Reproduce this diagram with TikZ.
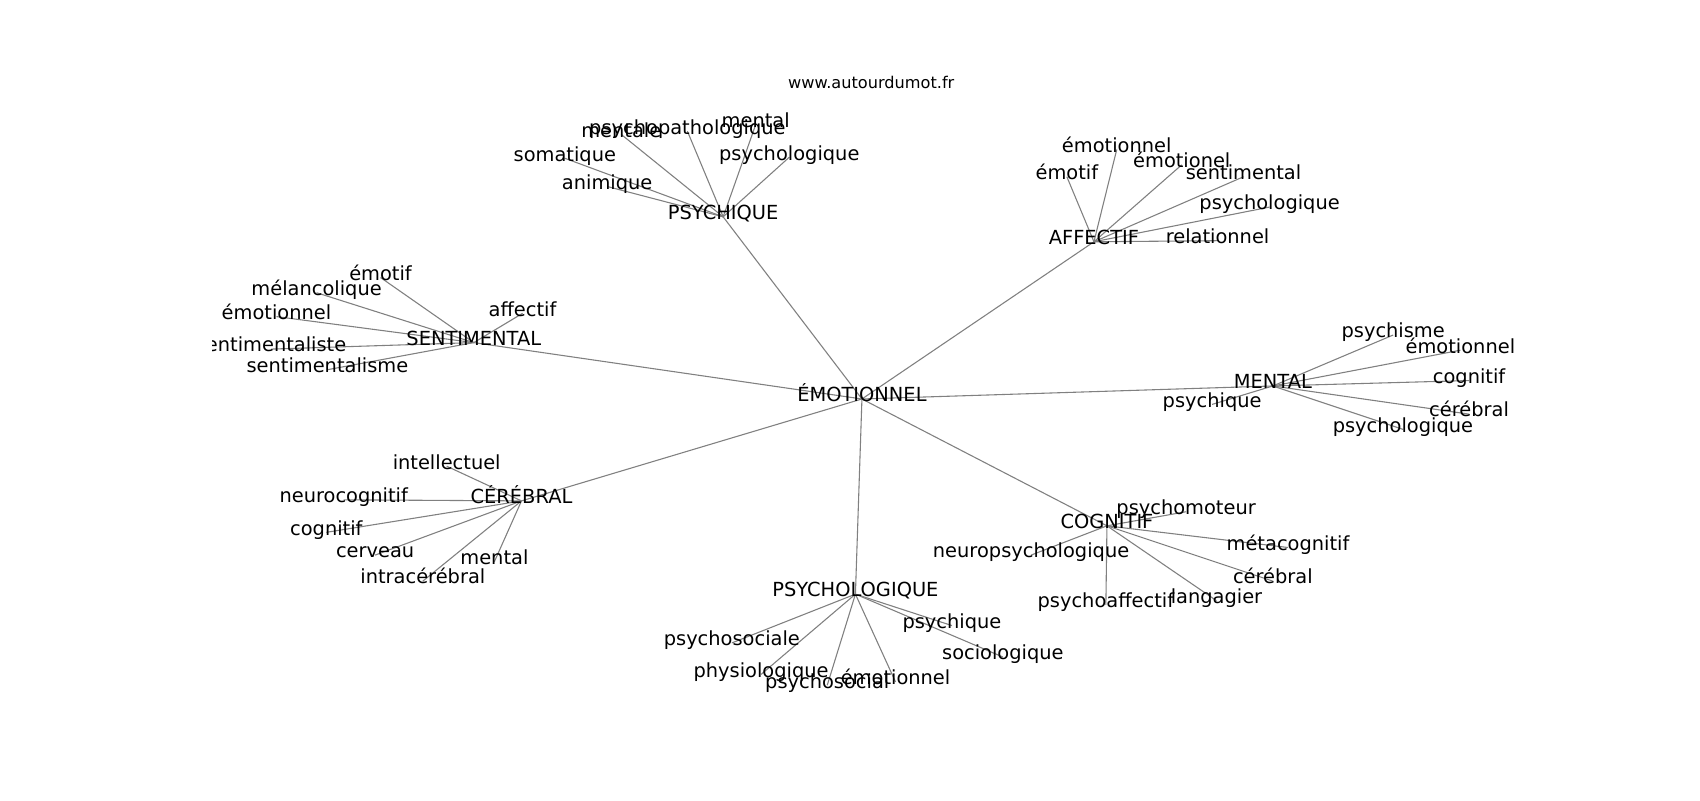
\documentclass[tikz,border=0pt]{standalone}
\usepackage{fontspec}
\setmainfont{DejaVu Sans}
\usetikzlibrary{backgrounds}

\begin{document}
\begin{tikzpicture}[x=1pt,y=-1pt,semithick]
\tikzstyle{word}=[inner sep=0pt, text height=0.76em, text depth=0.24em,
font=\fontsize{17.9}{20}\selectfont, text=black]
\tikzstyle{link}=[draw=gray, line width=1pt]

\useasboundingbox (0,0) rectangle (1568,738);

\node[font=\fontsize{14.9}{17}\selectfont] (Title) at (803.6,76) {www.autourdumot.fr};

\begin{scope}
\clip (196,88.6) rectangle (1411.2,656.8);
\begin{scope}[yshift=-2pt]

\node[word] (Emo) at (795,366) {ÉMOTIONNEL};

% hubs
\node[word] (Psychique) at (667,198) {PSYCHIQUE};
\node[word] (Affectif) at (1009,221) {AFFECTIF};
\node[word] (Sentimental) at (437,314) {SENTIMENTAL};
\node[word] (Mental) at (1174,354) {MENTAL};
\node[word] (Cerebral) at (481,460) {CÉRÉBRAL};
\node[word] (Cognitif) at (1021,483) {COGNITIF};
\node[word] (Psychologique) at (789,546) {PSYCHOLOGIQUE};

% PSYCHIQUE
\node[word] (PsqMentale) at (573,122) {mentale};
\node[word] (PsqPatho) at (634,119) {psychopathologique};
\node[word] (PsqMental) at (697,113) {mental};
\node[word] (PsqPsycho) at (728,143) {psychologique};
\node[word] (PsqSomatique) at (521,144) {somatique};
\node[word] (PsqAnimique) at (560,170) {animique};

% AFFECTIF
\node[word] (AffEmotionnel) at (1030,136) {émotionnel};
\node[word] (AffEmotif) at (984,161) {émotif};
\node[word] (AffEmotionel) at (1090,150) {émotionel};
\node[word] (AffSentimental) at (1147,161) {sentimental};
\node[word] (AffPsycho) at (1171,189) {psychologique};
\node[word] (AffRelationnel) at (1123,220) {relationnel};

% SENTIMENTAL
\node[word] (SenEmotif) at (351,254) {émotif};
\node[word] (SenMelancolique) at (292,268) {mélancolique};
\node[word] (SenEmotionnel) at (255,290) {émotionnel};
\node[word] (SenSentimentaliste) at (250,320) {sentimentaliste};
\node[word] (SenSentimentalisme) at (302,339) {sentimentalisme};
\node[word] (SenAffectif) at (482,287) {affectif};

% MENTAL
\node[word] (MenPsychisme) at (1285,307) {psychisme};
\node[word] (MenEmotionnel) at (1347,321) {émotionnel};
\node[word] (MenCognitif) at (1355,349) {cognitif};
\node[word] (MenCerebral) at (1355,380) {cérébral};
\node[word] (MenPsycho) at (1294,394) {psychologique};
\node[word] (MenPsychique) at (1118,371) {psychique};

% CEREBRAL
\node[word] (CerIntellectuel) at (412,428) {intellectuel};
\node[word] (CerNeuro) at (317,459) {neurocognitif};
\node[word] (CerCognitif) at (301,489) {cognitif};
\node[word] (CerCerveau) at (346,510) {cerveau};
\node[word] (CerIntra) at (390,534) {intracérébral};
\node[word] (CerMental) at (456,516) {mental};

% COGNITIF
\node[word] (CogMoteur) at (1094,470) {psychomoteur};
\node[word] (CogNeuro) at (951,510) {neuropsychologique};
\node[word] (CogMeta) at (1188,503) {métacognitif};
\node[word] (CogCerebral) at (1174,534) {cérébral};
\node[word] (CogAffectif) at (1020,556) {psychoaffectif};
\node[word] (CogLangagier) at (1122,552) {langagier};

% PSYCHOLOGIQUE
\node[word] (PslSociale) at (675,591) {psychosociale};
\node[word] (PslPhysio) at (702,620) {physiologique};
\node[word] (PslSocial) at (763,630) {psychosocial};
\node[word] (PslEmotionnel) at (826,627) {émotionnel};
\node[word] (PslPsychique) at (878,575) {psychique};
\node[word] (PslSocio) at (925,604) {sociologique};
\end{scope}
\end{scope}

\begin{scope}[on background layer]
\path[link] (Emo.center) edge (Psychique.center);
\path[link] (Emo.center) edge (Affectif.center);
\path[link] (Emo.center) edge (Sentimental.center);
\path[link] (Emo.center) edge (Mental.center);
\path[link] (Emo.center) edge (Cerebral.center);
\path[link] (Emo.center) edge (Cognitif.center);
\path[link] (Emo.center) edge (Psychologique.center);

\path[link] (Psychique.center) edge (PsqMentale.center);
\path[link] (Psychique.center) edge (PsqPatho.center);
\path[link] (Psychique.center) edge (PsqMental.center);
\path[link] (Psychique.center) edge (PsqPsycho.center);
\path[link] (Psychique.center) edge (PsqSomatique.center);
\path[link] (Psychique.center) edge (PsqAnimique.center);

\path[link] (Affectif.center) edge (AffEmotionnel.center);
\path[link] (Affectif.center) edge (AffEmotif.center);
\path[link] (Affectif.center) edge (AffEmotionel.center);
\path[link] (Affectif.center) edge (AffSentimental.center);
\path[link] (Affectif.center) edge (AffPsycho.center);
\path[link] (Affectif.center) edge (AffRelationnel.center);

\path[link] (Sentimental.center) edge (SenEmotif.center);
\path[link] (Sentimental.center) edge (SenMelancolique.center);
\path[link] (Sentimental.center) edge (SenEmotionnel.center);
\path[link] (Sentimental.center) edge (SenSentimentaliste.center);
\path[link] (Sentimental.center) edge (SenSentimentalisme.center);
\path[link] (Sentimental.center) edge (SenAffectif.center);

\path[link] (Mental.center) edge (MenPsychisme.center);
\path[link] (Mental.center) edge (MenEmotionnel.center);
\path[link] (Mental.center) edge (MenCognitif.center);
\path[link] (Mental.center) edge (MenCerebral.center);
\path[link] (Mental.center) edge (MenPsycho.center);
\path[link] (Mental.center) edge (MenPsychique.center);

\path[link] (Cerebral.center) edge (CerIntellectuel.center);
\path[link] (Cerebral.center) edge (CerNeuro.center);
\path[link] (Cerebral.center) edge (CerCognitif.center);
\path[link] (Cerebral.center) edge (CerCerveau.center);
\path[link] (Cerebral.center) edge (CerIntra.center);
\path[link] (Cerebral.center) edge (CerMental.center);

\path[link] (Cognitif.center) edge (CogMoteur.center);
\path[link] (Cognitif.center) edge (CogNeuro.center);
\path[link] (Cognitif.center) edge (CogMeta.center);
\path[link] (Cognitif.center) edge (CogCerebral.center);
\path[link] (Cognitif.center) edge (CogAffectif.center);
\path[link] (Cognitif.center) edge (CogLangagier.center);

\path[link] (Psychologique.center) edge (PslSociale.center);
\path[link] (Psychologique.center) edge (PslPhysio.center);
\path[link] (Psychologique.center) edge (PslSocial.center);
\path[link] (Psychologique.center) edge (PslEmotionnel.center);
\path[link] (Psychologique.center) edge (PslPsychique.center);
\path[link] (Psychologique.center) edge (PslSocio.center);
\end{scope}

\end{tikzpicture}
\end{document}
